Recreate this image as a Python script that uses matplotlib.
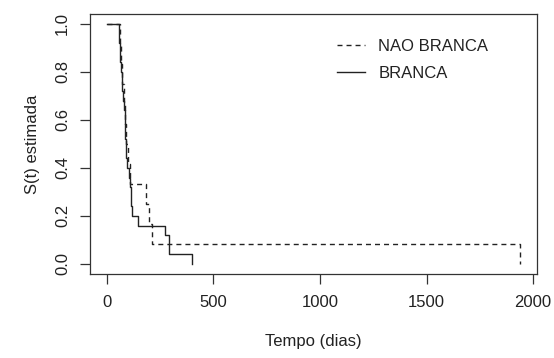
import matplotlib
matplotlib.use("Agg")
import matplotlib.pyplot as plt

plt.rcParams['font.family'] = ['Liberation Sans', 'DejaVu Sans']

# Kaplan-Meier estimates: event times (dias) and S(t) just after each step
t_branca = [0, 56, 58, 61, 63, 66, 70, 73, 77, 80, 83, 85, 87, 89, 91, 96,
            103, 108, 112, 114, 117, 146, 272, 291, 399]
s_branca = [1.0, 0.96, 0.92, 0.88, 0.84, 0.80, 0.76, 0.72, 0.68, 0.64, 0.60,
            0.56, 0.52, 0.48, 0.44, 0.40, 0.36, 0.32, 0.28, 0.24, 0.20, 0.16,
            0.12, 0.04, 0.0]

t_nao = [0, 60, 66, 72, 79, 84, 90, 97, 108, 186, 197, 214, 1940]
s_nao = [1.0, 0.917, 0.833, 0.75, 0.667, 0.583, 0.5, 0.417, 0.333, 0.25,
         0.167, 0.083, 0.0]

fs = 12
fig = plt.figure(figsize=(5.54, 3.58), dpi=100)
ax = fig.add_axes([0.163, 0.236, 0.806, 0.724])

ax.step(t_nao, s_nao, where='post', color='#222222', lw=1.0,
        linestyle=(0, (3.6, 2.9)), label='NAO BRANCA')
ax.step(t_branca, s_branca, where='post', color='#222222', lw=1.0,
        label='BRANCA')

ax.set_xlim(-77.6, 2017.6)
ax.set_ylim(-0.04, 1.04)
ax.set_xticks([0, 500, 1000, 1500, 2000])
ax.set_yticks([0.0, 0.2, 0.4, 0.6, 0.8, 1.0])
ax.set_yticklabels(['0.0', '0.2', '0.4', '0.6', '0.8', '1.0'],
                   rotation=90, va='center')

for s in ax.spines.values():
    s.set_color('#333333')
    s.set_linewidth(0.9)
ax.tick_params(axis='both', direction='out', length=7.5, width=0.9,
               color='#333333', labelsize=fs, labelcolor='#222222')
ax.tick_params(axis='x', pad=8)
ax.tick_params(axis='y', pad=7)

ax.set_xlabel('Tempo (dias)', fontsize=fs, color='#222222', labelpad=17)
ax.set_ylabel('S(t) estimada', fontsize=fs, color='#222222', labelpad=11)

ax.legend(loc='upper left', bbox_to_anchor=(0.552, 0.904), frameon=False,
          fontsize=fs, handlelength=1.7, handletextpad=0.8,
          borderpad=0, borderaxespad=0, labelspacing=0.7,
          labelcolor='#222222')

fig.savefig('out.png', dpi=100)
